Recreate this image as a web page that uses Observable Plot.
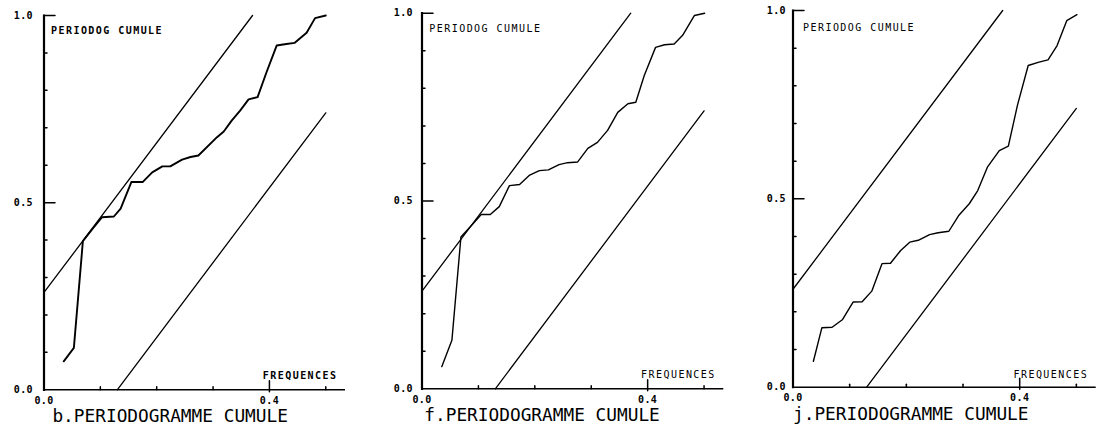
<!DOCTYPE html>
<html>
<head>
<meta charset="utf-8">
<script src="https://cdn.jsdelivr.net/npm/d3@7"></script>
<script src="https://cdn.jsdelivr.net/npm/@observablehq/plot@0.6"></script>
<style>
  html, body { margin: 0; padding: 0; background: #fff; }
  #wrap { position: relative; width: 1109px; height: 433px; overflow: hidden; }
  .panel { position: absolute; top: 0; }
  svg { display: block; background: #fff; }
</style>
</head>
<body>
<div id="wrap"></div>
<script>
// ---------- data ----------
const panelNames = ["b.PERIODOGRAMME CUMULE", "f.PERIODOGRAMME CUMULE", "j.PERIODOGRAMME CUMULE"];
const yLabelText = "PERIODOG CUMULE";
const xLabelText = "FREQUENCES";

const yTickLabels = [0.0, 0.5, 1.0];
const yMajorTicks = [0.5, 1.0];
const yMinorTicks = [0.1, 0.2, 0.3, 0.4, 0.6, 0.7, 0.8, 0.9];
const xTickLabels = [0.0, 0.4];
const xMajorTicks = [0.4];
const xMinorTicks = [0.1, 0.2, 0.3, 0.5];
const yDomain = [0, 1];

// Kolmogorov-Smirnov bounds (end points)
const upperX = [0.0, 0.37];
const upperY = [0.26, 1.0];
const lowerX = [0.13, 0.50];
const lowerY = [0.0, 0.74];

// cumulative periodogram, panel b
const freqB = [0.035, 0.053, 0.069, 0.086, 0.103, 0.124, 0.136, 0.155, 0.175, 0.192, 0.210, 0.224, 0.245, 0.260, 0.274, 0.307, 0.319, 0.333, 0.348, 0.363, 0.379, 0.395, 0.413, 0.430, 0.445, 0.466, 0.481, 0.500];
const cumB  = [0.076, 0.112, 0.397, 0.430, 0.461, 0.463, 0.484, 0.555, 0.555, 0.581, 0.597, 0.597, 0.615, 0.622, 0.626, 0.675, 0.690, 0.719, 0.746, 0.776, 0.782, 0.849, 0.920, 0.924, 0.927, 0.954, 0.993, 1.000];

// panel f
const freqF = [0.035, 0.053, 0.069, 0.090, 0.105, 0.121, 0.137, 0.155, 0.173, 0.190, 0.208, 0.224, 0.243, 0.258, 0.276, 0.294, 0.311, 0.329, 0.347, 0.365, 0.379, 0.394, 0.414, 0.430, 0.447, 0.462, 0.483, 0.501];
const cumF  = [0.059, 0.129, 0.404, 0.439, 0.464, 0.464, 0.485, 0.541, 0.544, 0.568, 0.581, 0.583, 0.597, 0.602, 0.604, 0.640, 0.656, 0.688, 0.736, 0.759, 0.763, 0.834, 0.909, 0.916, 0.918, 0.941, 0.994, 1.000];

// panel j
const freqJ = [0.036, 0.051, 0.069, 0.087, 0.106, 0.122, 0.139, 0.157, 0.172, 0.190, 0.206, 0.221, 0.241, 0.256, 0.275, 0.292, 0.311, 0.326, 0.343, 0.364, 0.380, 0.396, 0.415, 0.434, 0.450, 0.466, 0.483, 0.501];
const cumJ  = [0.069, 0.158, 0.159, 0.179, 0.226, 0.227, 0.255, 0.328, 0.329, 0.363, 0.385, 0.390, 0.405, 0.410, 0.414, 0.455, 0.487, 0.522, 0.584, 0.628, 0.640, 0.748, 0.854, 0.863, 0.869, 0.907, 0.973, 0.989];

// ---------- layout / style ----------
const layouts = [
  {left: 0,   L: 43.5, R: 345.0, T: 15.0, B: 389.3, curveW: 1.9, bold: true,  ylGap: 11, lbl: {dx: 7, dy: 11}, fq: {dx: -8, dy: -11}, cap: {dx: 8.4, dy: 32}},
  {left: 370, L: 51.5, R: 353.3, T: 12.7, B: 388.3, curveW: 1.4, bold: false, ylGap: 9,  lbl: {dx: 7.3, dy: 12}, fq: {dx: -8, dy: -11}, cap: {dx: 2.3, dy: 32}},
  {left: 739, L: 53.5, R: 356.7, T: 10.0, B: 386.7, curveW: 1.4, bold: false, ylGap: 7,  lbl: {dx: 10, dy: 13.7}, fq: {dx: -8, dy: -9.5}, cap: {dx: 0, dy: 33}}
];
const seriesX = [freqB, freqF, freqJ];
const seriesY = [cumB, cumF, cumJ];

const W = 370, H = 433;
const XMAX = 0.535;
const ink = "#000";
const mono = "DejaVu Sans Mono, Liberation Mono, monospace";

const pts = (xs, ys) => xs.map((x, i) => ({x, y: ys[i]}));

layouts.forEach((lay, i) => {
  // pixel length -> data units, for the short inward tick marks
  const pxX = XMAX / (lay.R - lay.L);
  const pxY = 1 / (lay.B - lay.T);
  const yTickSeg = [
    ...yMinorTicks.flatMap(t => [{x: 0, y: t, k: "m" + t}, {x: 3 * pxX, y: t, k: "m" + t}]),
    ...yMajorTicks.flatMap(t => [{x: 0, y: t, k: "M" + t}, {x: 11 * pxX, y: t, k: "M" + t}])
  ];
  const xTickSeg = [
    ...xMinorTicks.flatMap(t => [{x: t, y: 0, k: "m" + t}, {x: t, y: 3 * pxY, k: "m" + t}]),
    ...xMajorTicks.flatMap(t => [{x: t, y: -2 * pxY, k: "M" + t}, {x: t, y: 9 * pxY, k: "M" + t}])
  ];
  const svg = Plot.plot({
    width: W, height: H,
    marginLeft: lay.L, marginRight: W - lay.R, marginTop: lay.T, marginBottom: H - lay.B,
    x: {domain: [0, XMAX], axis: null},
    y: {domain: yDomain, axis: null},
    marks: [
      Plot.line(pts([0, 0], yDomain), {x: "x", y: "y", stroke: ink, strokeWidth: 2.2, strokeLinecap: "square"}),
      Plot.ruleY([0], {stroke: ink, strokeWidth: 1.6}),
      Plot.line(yTickSeg, {x: "x", y: "y", z: "k", stroke: ink, strokeWidth: 1.5}),
      Plot.line(xTickSeg, {x: "x", y: "y", z: "k", stroke: ink, strokeWidth: 1.5}),
      Plot.text(yTickLabels, {x: d => 0, y: d => d, text: d => d.toFixed(1), textAnchor: "end", dx: -lay.ylGap,
        fontFamily: mono, fontSize: 10, fontWeight: "bold", fill: ink}),
      Plot.text(xTickLabels, {x: d => d, y: d => 0, text: d => d.toFixed(1), dy: 11,
        fontFamily: mono, fontSize: 10, fontWeight: "bold", fill: ink}),
      Plot.line(pts(upperX, upperY), {x: "x", y: "y", stroke: ink, strokeWidth: 1.3}),
      Plot.line(pts(lowerX, lowerY), {x: "x", y: "y", stroke: ink, strokeWidth: 1.3}),
      Plot.line(pts(seriesX[i], seriesY[i]), {x: "x", y: "y", stroke: ink, strokeWidth: lay.curveW, strokeLinejoin: "round"}),
      Plot.text([yLabelText], {frameAnchor: "top-left", textAnchor: "start", dx: lay.lbl.dx, dy: lay.lbl.dy,
        fontFamily: mono, fontSize: 10, fontWeight: lay.bold ? "bold" : "normal", fill: ink}),
      Plot.text([xLabelText], {frameAnchor: "bottom-right", textAnchor: "end", dx: lay.fq.dx, dy: lay.fq.dy,
        fontFamily: mono, fontSize: 10, fontWeight: lay.bold ? "bold" : "normal", fill: ink}),
      Plot.text([panelNames[i]], {frameAnchor: "bottom-left", textAnchor: "start", dx: lay.cap.dx, dy: lay.cap.dy,
        fontFamily: mono, fontSize: 17.8, fill: ink})
    ]
  });
  d3.select(svg).selectAll("text").each(function() {
    const t = this.textContent;
    if (t === yLabelText || t === xLabelText) this.setAttribute("letter-spacing", "1.45");
    else if (/^\d\.\d$/.test(t)) this.setAttribute("letter-spacing", "0.4");
  });
  const div = document.createElement("div");
  div.className = "panel";
  div.style.left = lay.left + "px";
  div.appendChild(svg);
  document.getElementById("wrap").appendChild(div);
});
</script>
</body>
</html>
